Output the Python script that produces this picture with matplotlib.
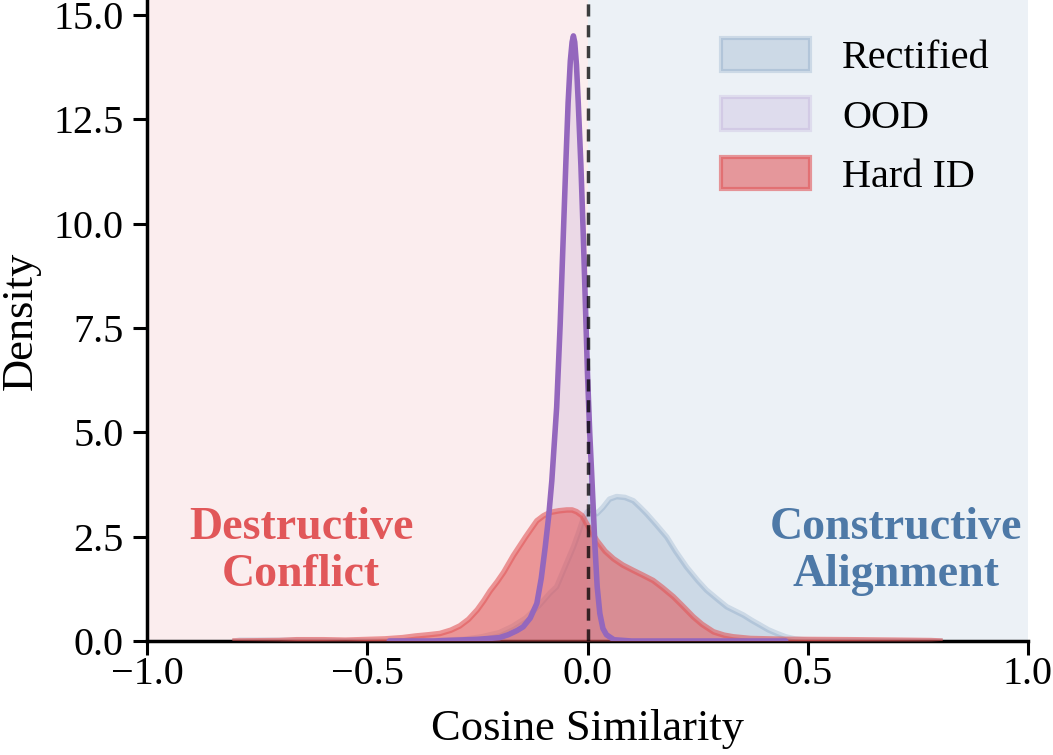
import matplotlib
matplotlib.use("Agg")
import matplotlib.pyplot as plt
from matplotlib.patches import Patch

plt.rcParams["font.family"] = ["Liberation Serif", "DejaVu Serif"]

# Rectified (blue) density
rect_x = [-0.8, -0.79, -0.66, -0.5, -0.35, -0.28, -0.24, -0.2, -0.17, -0.14, -0.11, -0.085,
          -0.07, -0.05, -0.032, -0.02, -0.009, 0.0, 0.01, 0.021, 0.035, 0.05, 0.066, 0.085,
          0.104, 0.12, 0.134, 0.155, 0.18, 0.2, 0.225, 0.25, 0.27, 0.295, 0.316, 0.335,
          0.354, 0.372, 0.392, 0.41, 0.43, 0.45, 0.47, 0.5, 0.55, 0.8]
rect_y = [0.0, 0.02, 0.02, 0.0, 0.01, 0.04, 0.1, 0.2, 0.35, 0.55, 0.85, 1.15,
          1.3, 1.8, 2.25, 2.6, 2.95, 3.1, 3.15, 3.05, 3.2, 3.4, 3.46, 3.44,
          3.36, 3.2, 3.05, 2.8, 2.49, 2.15, 1.77, 1.45, 1.22, 1.0, 0.82, 0.72,
          0.62, 0.5, 0.38, 0.27, 0.18, 0.1, 0.05, 0.02, 0.01, 0.0]

# OOD (purple)
ood_x = [-0.45, -0.35, -0.3, -0.25, -0.2, -0.18, -0.16, -0.146, -0.13, -0.115, -0.105, -0.096,
         -0.088, -0.081, -0.07, -0.062, -0.055, -0.049, -0.044, -0.039, -0.035, -0.032,
         -0.029, -0.025, -0.021, -0.015, -0.0095, -0.004, 0.0, 0.005, 0.0095, 0.017, 0.022,
         0.028, 0.035, 0.043, 0.06, 0.1, 0.45]
ood_y = [0.0, 0.0, 0.02, 0.04, 0.08, 0.15, 0.25, 0.34, 0.55, 0.9, 1.5, 2.25,
         3.0, 3.84, 5.6, 7.6, 9.7, 11.5, 12.9, 13.9, 14.35, 14.5,
         14.35, 13.8, 12.9, 11.4, 9.7, 7.8, 6.4, 5.0, 4.0, 2.25, 1.3,
         0.66, 0.3, 0.15, 0.03, 0.0, 0.0]

# Hard ID (red)
hard_x = [-0.8, -0.7, -0.66, -0.6, -0.55, -0.46, -0.42, -0.39, -0.36, -0.335, -0.31, -0.29,
          -0.27, -0.25, -0.235, -0.221, -0.205, -0.19, -0.168, -0.14, -0.115, -0.1, -0.085,
          -0.065, -0.047, -0.035, -0.025, -0.012, -0.002, 0.01, 0.021, 0.04, 0.059, 0.08,
          0.104, 0.125, 0.149, 0.17, 0.195, 0.215, 0.24, 0.26, 0.286, 0.31, 0.331, 0.37,
          0.45, 0.6, 0.7, 0.78, 0.8]
hard_y = [0.0, 0.01, 0.03, 0.03, 0.02, 0.05, 0.08, 0.12, 0.15, 0.18, 0.26, 0.36,
          0.52, 0.75, 0.97, 1.2, 1.42, 1.65, 2.05, 2.5, 2.88, 3.0, 3.08,
          3.12, 3.14, 3.14, 3.1, 3.0, 2.81, 2.6, 2.41, 2.15, 1.97, 1.82,
          1.69, 1.58, 1.45, 1.28, 1.06, 0.85, 0.58, 0.4, 0.22, 0.14, 0.1, 0.06,
          0.04, 0.03, 0.02, 0.01, 0.0]

labels = ["Rectified", "OOD", "Hard ID"]
blue = "#4e79a7"
purple = "#9467bd"
red = "#e15759"

fig = plt.figure(figsize=(10.53, 7.55), dpi=100)
ax = fig.add_axes([147 / 1053, 114 / 755, 881 / 1053, 641 / 755])

ax.axvspan(-1, 0, color=red, alpha=0.1, lw=0, zorder=0)
ax.axvspan(0, 1, color=blue, alpha=0.1, lw=0, zorder=0)

ax.fill_between(rect_x, rect_y, color=blue, alpha=0.2, lw=0, zorder=1)
ax.plot(rect_x, rect_y, color=blue, alpha=0.2, lw=4, zorder=1)
ax.fill_between(ood_x, ood_y, color=purple, alpha=0.15, lw=0, zorder=2)
ax.fill_between(hard_x, hard_y, color=red, alpha=0.58, lw=0, zorder=3)
ax.plot(hard_x, hard_y, color=red, alpha=0.6, lw=4, zorder=3)
ax.plot(ood_x, ood_y, color=purple, lw=4, zorder=4, solid_capstyle="round")

ax.axvline(0, color="black", alpha=0.75, lw=2.5, ls=(0, (3.5, 2.5)), zorder=5)

ax.text(-0.65, 2.15, "Destructive\nConflict", color=red, fontsize=33, fontweight="bold",
        ha="center", va="center", linespacing=1.15, zorder=6)
ax.text(0.7, 2.15, "Constructive\nAlignment", color=blue, fontsize=33, fontweight="bold",
        ha="center", va="center", linespacing=1.15, zorder=6)

handles = [
    Patch(facecolor=(0.306, 0.475, 0.655, 0.2), edgecolor=(0.306, 0.475, 0.655, 0.2), lw=3),
    Patch(facecolor=(0.58, 0.404, 0.741, 0.15), edgecolor=(0.58, 0.404, 0.741, 0.15), lw=3),
    Patch(facecolor=(0.882, 0.341, 0.349, 0.58), edgecolor=(0.882, 0.341, 0.349, 0.6), lw=3),
]
ax.legend(handles, labels, loc="upper right", frameon=False, fontsize=29,
          handlelength=2.2, handleheight=0.87, handletextpad=0.8, labelspacing=0.5,
          borderaxespad=0.0, bbox_to_anchor=(0.975, 0.966))

ax.set_xlim(-1, 1)
ax.set_ylim(0, 15.36)
ax.set_xticks([-1.0, -0.5, 0.0, 0.5, 1.0])
ax.set_xticklabels(["\u22121.0", "\u22120.5", "0.0", "0.5", "1.0"])
ax.set_yticks([0, 2.5, 5, 7.5, 10, 12.5, 15])
ax.set_yticklabels(["0.0", "2.5", "5.0", "7.5", "10.0", "12.5", "15.0"])
ax.tick_params(labelsize=29, width=2.2, length=10, direction="out")
ax.tick_params(axis="x", pad=1)
ax.tick_params(axis="y", pad=7)
ax.set_xlabel("Cosine Similarity", fontsize=32, labelpad=11)
ax.set_ylabel("Density", fontsize=32, labelpad=9)
for side in ["top", "right"]:
    ax.spines[side].set_visible(False)
for side in ["left", "bottom"]:
    ax.spines[side].set_linewidth(2.5)

fig.savefig("out.png", dpi=100)
